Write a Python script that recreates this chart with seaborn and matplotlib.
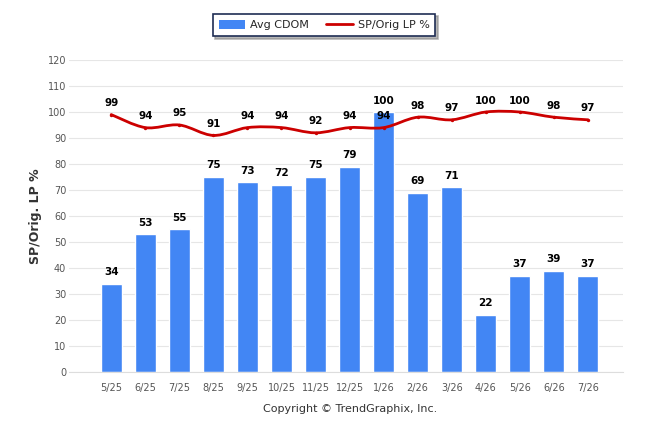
import numpy as np
import pandas as pd
import matplotlib
matplotlib.use("Agg")
import matplotlib.pyplot as plt
import seaborn as sns
from matplotlib.patches import Patch, PathPatch
from matplotlib.lines import Line2D
from matplotlib.path import Path

# Data
months = ["5/25", "6/25", "7/25", "8/25", "9/25", "10/25", "11/25", "12/25",
          "1/26", "2/26", "3/26", "4/26", "5/26", "6/26", "7/26"]
avg_cdom = [34, 53, 55, 75, 73, 72, 75, 79, 100, 69, 71, 22, 37, 39, 37]
sp_orig = [99, 94, 95, 91, 94, 94, 92, 94, 94, 98, 97, 100, 100, 98, 97]

bar_color = "#4286f4"
line_color = "#cc0000"

sns.set_style("white")
plt.rcParams["font.family"] = ["DejaVu Sans"]

df = pd.DataFrame({"month": months, "cdom": avg_cdom, "sp": sp_orig})
df["x"] = np.arange(len(df))

fig = plt.figure(figsize=(6.46, 4.34), dpi=100)
ax = fig.add_axes([69 / 646, 62 / 434, (623 - 69) / 646, 312 / 434])

ax.bar(df["x"], df["cdom"], width=0.62, color=bar_color, zorder=2)

# smooth spline through the SP/Orig points (bezier segments, like the source chart)
pts = df[["x", "sp"]].to_numpy(dtype=float)
ext = np.vstack([pts[0], pts, pts[-1]])
verts = [tuple(pts[0])]
codes = [Path.MOVETO]
for i in range(len(pts) - 1):
    p0, p1, p2, p3 = ext[i], ext[i + 1], ext[i + 2], ext[i + 3]
    c1 = p1 + (p2 - p0) / 6
    c2 = p2 - (p3 - p1) / 6
    verts += [tuple(c1), tuple(c2), tuple(p2)]
    codes += [Path.CURVE4] * 3
ax.add_patch(PathPatch(Path(verts, codes), facecolor="none", edgecolor=line_color,
                       linewidth=2, zorder=3, capstyle="round"))
sns.scatterplot(data=df, x="x", y="sp", ax=ax, color=line_color, s=6,
                linewidth=0, zorder=3)

for x, v in zip(df["x"], df["cdom"]):
    ax.text(x, v + 2.5, str(v), ha="center", va="bottom", fontsize=7.5,
            fontweight="bold", color="black", zorder=4)
for x, v in zip(df["x"], df["sp"]):
    ax.text(x, v + 2.5, str(v), ha="center", va="bottom", fontsize=7.5,
            fontweight="bold", color="black", zorder=4)

ax.set_ylim(0, 120)
ax.set_xlim(-1.24, 15.03)
ax.set_yticks(range(0, 121, 10))
ax.set_xticks(list(range(-1, 16)))
ax.set_xticklabels([""] + months + [""])
ax.grid(axis="y", color="#e6e6e6", linewidth=0.8, zorder=0)
ax.tick_params(axis="y", length=0, labelsize=7, labelcolor="#555555", pad=2)
ax.tick_params(axis="x", length=4, width=0.8, color="#dddddd", labelsize=7,
               labelcolor="#555555", pad=4, direction="out")
for s in ["top", "right", "left"]:
    ax.spines[s].set_visible(False)
ax.spines["bottom"].set_color("#dddddd")
ax.set_xlabel("")
ax.set_ylabel("SP/Orig. LP %", fontsize=9, fontweight="bold", color="#333333", labelpad=4)

handles = [Patch(facecolor=bar_color, edgecolor="none"),
           Line2D([0], [0], color=line_color, linewidth=2)]
leg = fig.legend(handles, ["Avg CDOM", "SP/Orig LP %"], loc="center",
                 bbox_to_anchor=(324 / 646, 1 - 25 / 434), ncol=2, fontsize=8,
                 frameon=True, fancybox=False,
                 shadow={"color": "#888888", "alpha": 0.6}, handlelength=2.4,
                 handleheight=0.9, handletextpad=0.4, columnspacing=1.6, borderpad=0.55)
leg.get_frame().set_edgecolor("#1f2d54")
leg.get_frame().set_linewidth(1.2)

fig.text(350 / 646, 1 - 409 / 434, "Copyright \u00a9 TrendGraphix, Inc.",
         ha="center", va="center", fontsize=8, color="#333333")

fig.savefig("out.png", dpi=100)
